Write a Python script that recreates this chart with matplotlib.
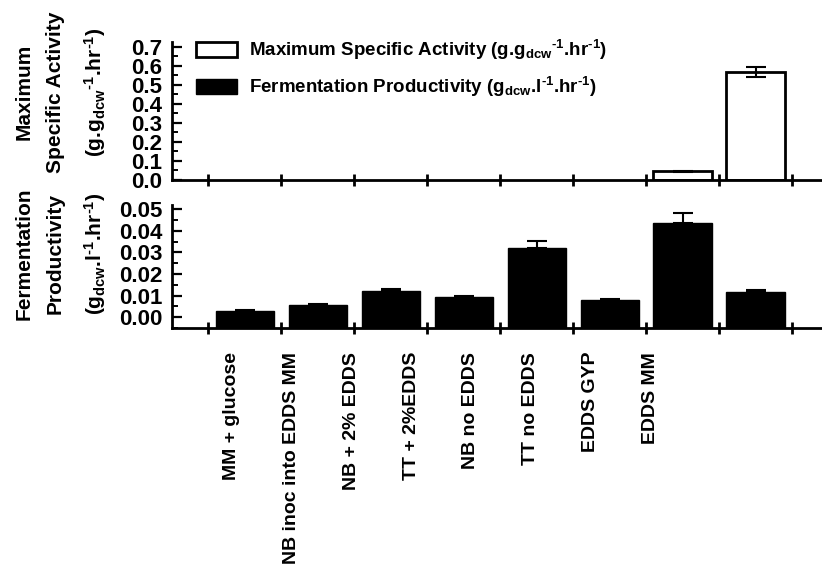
import numpy as np
import matplotlib
matplotlib.use("Agg")
import matplotlib.pyplot as plt
from matplotlib.patches import Patch
from matplotlib.ticker import MultipleLocator, FormatStrFormatter

# ---------------------------------------------------------
# DATOS
# ---------------------------------------------------------
categorias = ["MM + glucose", "NB inoc into EDDS MM", "NB + 2% EDDS", "TT + 2%EDDS",
              "NB no EDDS", "TT no EDDS", "EDDS GYP", "EDDS MM"]

actividad = [np.nan, np.nan, np.nan, np.nan, np.nan, np.nan, 0.045, 0.568]
actividad_err = [0, 0, 0, 0, 0, 0, 0.002, 0.026]

productividad = [0.0029, 0.0056, 0.0120, 0.0093, 0.0322, 0.0079, 0.0438, 0.0116]
productividad_err = [0.0002, 0.0004, 0.0012, 0.0006, 0.0030, 0.0004, 0.0042, 0.0012]

leyenda = ["Maximum Specific Activity (g.g$_{dcw}$$^{\u2010 1}$.hr$^{\u2010 1}$)",
           "Fermentation Productivity (g$_{dcw}$.l$^{\u2010 1}$.hr$^{\u2010 1}$)"]

# ---------------------------------------------------------
# ESTILO
# ---------------------------------------------------------
plt.rcParams["font.family"] = ["Liberation Sans", "DejaVu Sans"]
plt.rcParams["font.weight"] = "bold"
plt.rcParams["mathtext.fontset"] = "custom"
plt.rcParams["mathtext.rm"] = "Liberation Sans:bold"
plt.rcParams["mathtext.it"] = "Liberation Sans:bold"
plt.rcParams["mathtext.bf"] = "Liberation Sans:bold"
plt.rcParams["mathtext.default"] = "regular"

W, H = 822, 580
fig = plt.figure(figsize=(W / 100, H / 100), dpi=100)

x = np.arange(1, len(categorias) + 1)
ancho = 0.8


def estilo_ejes(ax, mayor, menor, formato):
    for lado in ["top", "right"]:
        ax.spines[lado].set_visible(False)
    for lado in ["left", "bottom"]:
        ax.spines[lado].set_linewidth(2)
    ax.set_xlim(0, 8.91)
    ax.set_xticks(x - 0.5)
    ax.set_xticks([8.5], minor=True)
    ax.tick_params(axis="x", which="both", direction="inout", length=8, width=2,
                   labelbottom=False)
    ax.yaxis.set_major_locator(MultipleLocator(mayor))
    ax.yaxis.set_minor_locator(MultipleLocator(menor))
    ax.yaxis.set_major_formatter(FormatStrFormatter(formato))
    ax.tick_params(axis="y", which="major", direction="in", length=7, width=1.6,
                   labelsize=16, pad=7)
    ax.tick_params(axis="y", which="minor", direction="in", length=4, width=1.4)


# --- panel superior ---
ax1 = fig.add_axes([172 / W, 1 - 180 / H, 650 / W, 138 / H])
ax1.bar(x, actividad, width=ancho, color="white", edgecolor="black", linewidth=2)
ax1.errorbar(x, actividad, yerr=actividad_err, fmt="none", ecolor="black",
             elinewidth=1.5, capsize=7, capthick=1.5)
ax1.set_ylim(0, 0.726)
estilo_ejes(ax1, 0.1, 0.05, "%.1f")

# --- panel inferior ---
y_min = -0.005
ax2 = fig.add_axes([172 / W, 1 - 328 / H, 650 / W, 123 / H])
ax2.bar(x, np.array(productividad) - y_min, bottom=y_min, width=ancho,
        color="black", edgecolor="black", linewidth=1)
ax2.errorbar(x, productividad, yerr=[np.zeros(len(x)), productividad_err], fmt="none",
             ecolor="black", elinewidth=1.5, capsize=7, capthick=1.5)
ax2.set_ylim(y_min, 0.0519)
estilo_ejes(ax2, 0.01, 0.005, "%.2f")
ax2.set_ylim(y_min, 0.0519)

# --- etiquetas de categorias ---
ax3 = fig.add_axes([202 / W, 1 - 352 / H, 478 / W, 0.001])
ax3.set_xlim(0.5, 8.5)
ax3.set_xticks(x)
ax3.set_xticklabels(categorias, rotation=90, fontsize=14, fontweight="bold", va="top")
ax3.tick_params(axis="x", length=0, pad=0)
ax3.set_yticks([])
for lado in ax3.spines.values():
    lado.set_visible(False)

# --- titulos de ejes ---
fig.text(61 / W, 1 - 92 / H,
         "Maximum\nSpecific Activity\n(g.g$_{dcw}$$^{\u2010 1}$.hr$^{\u2010 1}$)",
         rotation=90, ha="center", va="center", multialignment="center",
         fontsize=15, fontweight="bold", linespacing=1.85)
fig.text(61 / W, 1 - 254 / H,
         "Fermentation\nProductivity\n(g$_{dcw}$.l$^{\u2010 1}$.hr$^{\u2010 1}$)",
         rotation=90, ha="center", va="center", multialignment="center",
         fontsize=15, fontweight="bold", linespacing=1.85)

# --- leyenda ---
manejadores = [Patch(facecolor="white", edgecolor="black", linewidth=2),
               Patch(facecolor="black", edgecolor="black")]
fig.legend(manejadores, leyenda, loc="upper left", bbox_to_anchor=(196 / W, 1 - 38 / H),
           frameon=False, handlelength=2.2, handleheight=0.85,
           handletextpad=0.65, labelspacing=0.7, borderpad=0, borderaxespad=0,
           prop={"weight": "bold", "size": 13.5})

plt.savefig("out.png", dpi=100)
